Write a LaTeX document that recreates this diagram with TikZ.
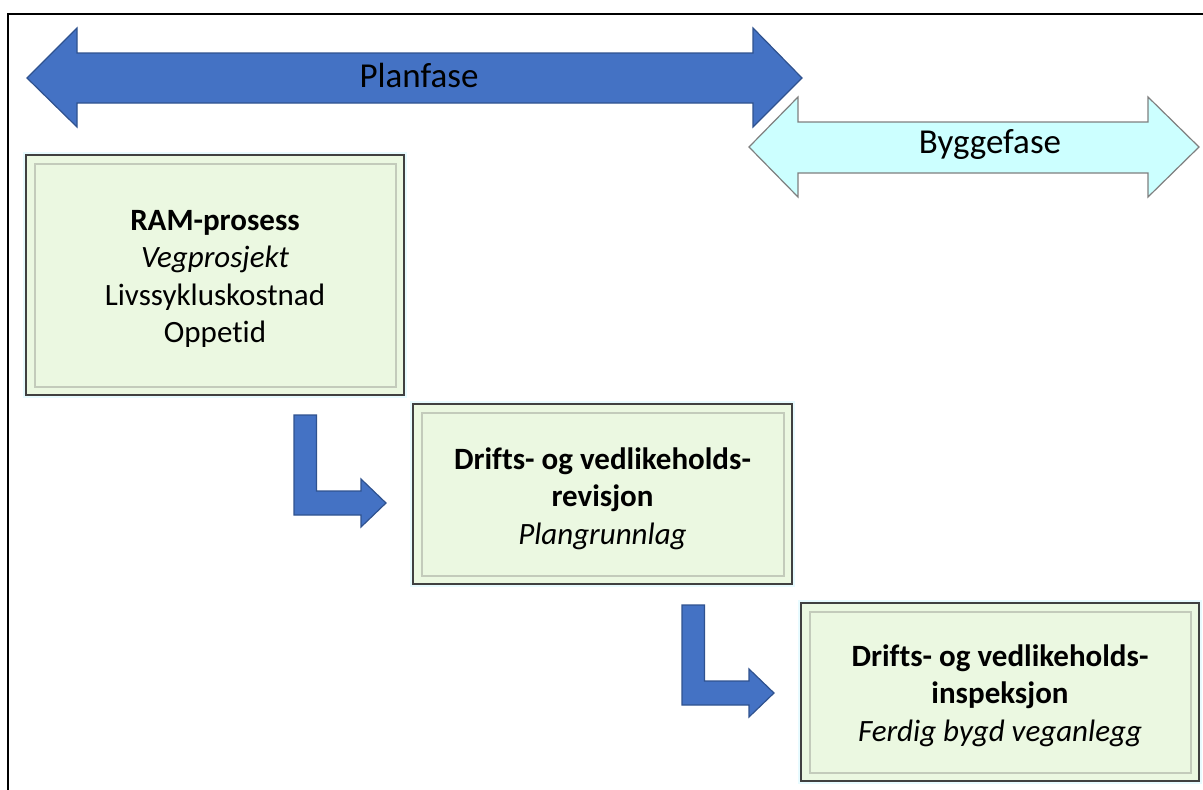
\documentclass[tikz,border=0pt]{standalone}
\usepackage{fontspec}
\setmainfont{Carlito}[Ligatures=NoCommon]
\begin{document}
\begin{tikzpicture}[x=1pt,y=-1pt]
\definecolor{phaseblue}{HTML}{4472C4}
\definecolor{phaseblueedge}{HTML}{2F528F}
\definecolor{buildcyan}{HTML}{CCFFFF}
\definecolor{buildedge}{HTML}{7F7F7F}
\definecolor{boxfill}{HTML}{EBF8E1}
\definecolor{boxedge}{HTML}{404040}
\definecolor{boxinner}{HTML}{C3CBBB}
\definecolor{boxglow}{HTML}{E8FBFF}
\tikzset{
  bluearrow/.style={fill=phaseblue, draw=phaseblueedge, line width=1.2pt, line join=miter},
  cyanarrow/.style={fill=buildcyan, draw=buildedge, line width=1.2pt, line join=miter},
  phaselabel/.style={inner sep=0pt, font=\fontsize{35}{42}\selectfont},
  stagebox/.style={rectangle, fill=boxfill, draw=boxedge, line width=1.8pt,
    preaction={draw=boxglow, line width=6pt}, inner sep=0pt,
    path picture={\draw[boxinner, line width=1.8pt]
      ([shift={(9,9)}]path picture bounding box.north west) rectangle
      ([shift={(-8,-8)}]path picture bounding box.south east);}},
  stagetext/.style={inner sep=0pt, align=center, font=\fontsize{31}{37.5}\selectfont},
  bentarrow/.pic={\draw[bluearrow] (0,0) -- (22.5,0) -- (22.5,76) -- (67,76) -- (67,64)
    -- (92,88) -- (67,112) -- (67,100) -- (0,100) -- cycle;}
}
\useasboundingbox (0,0) rectangle (1203,790);
% outer frame (top and left edges)
\draw[line width=2.5pt, line join=miter] (8,790) -- (8,14) -- (1203,14);

% phase arrows
\draw[bluearrow] (27,78) -- (77,28) -- (77,53) -- (753,53) -- (753,28) -- (802,78)
  -- (753,127) -- (753,103) -- (77,103) -- (77,127) -- cycle;
\node[phaselabel] (plan) at (419,75) {Planfase};

\draw[cyanarrow] (749,147) -- (798,97) -- (798,122) -- (1148,122) -- (1148,97) -- (1199,147)
  -- (1148,197) -- (1148,173) -- (798,173) -- (798,197) -- cycle;
\node[phaselabel] (bygg) at (990,145) {Byggefase};

% stages
\node[stagebox, minimum width=378pt, minimum height=240pt] (ram) at (215,275) {};
\node[stagetext] (ramtext) at ([yshift=-4pt]ram.center)
  {\textbf{RAM-prosess}\\ \textit{Vegprosjekt}\\ Livssykluskostnad\\ Oppetid};
\node[stagebox, minimum width=379pt, minimum height=180pt] (rev) at (602.5,494) {};
\node[stagetext] (revtext) at ([yshift=-4.5pt]rev.center)
  {\textbf{Drifts- og vedlikeholds-}\\ \textbf{revisjon}\\ \textit{Plangrunnlag}};
\node[stagebox, minimum width=398pt, minimum height=178pt] (insp) at (1000,692) {};
\node[stagetext] (insptext) at ([yshift=-3.5pt]insp.center)
  {\textbf{Drifts- og vedlikeholds-}\\ \textbf{inspeksjon}\\ \textit{Ferdig bygd veganlegg}};

% step arrows between stages
\pic at (294,415) {bentarrow};
\pic at (682,605) {bentarrow};
\end{tikzpicture}
\end{document}
